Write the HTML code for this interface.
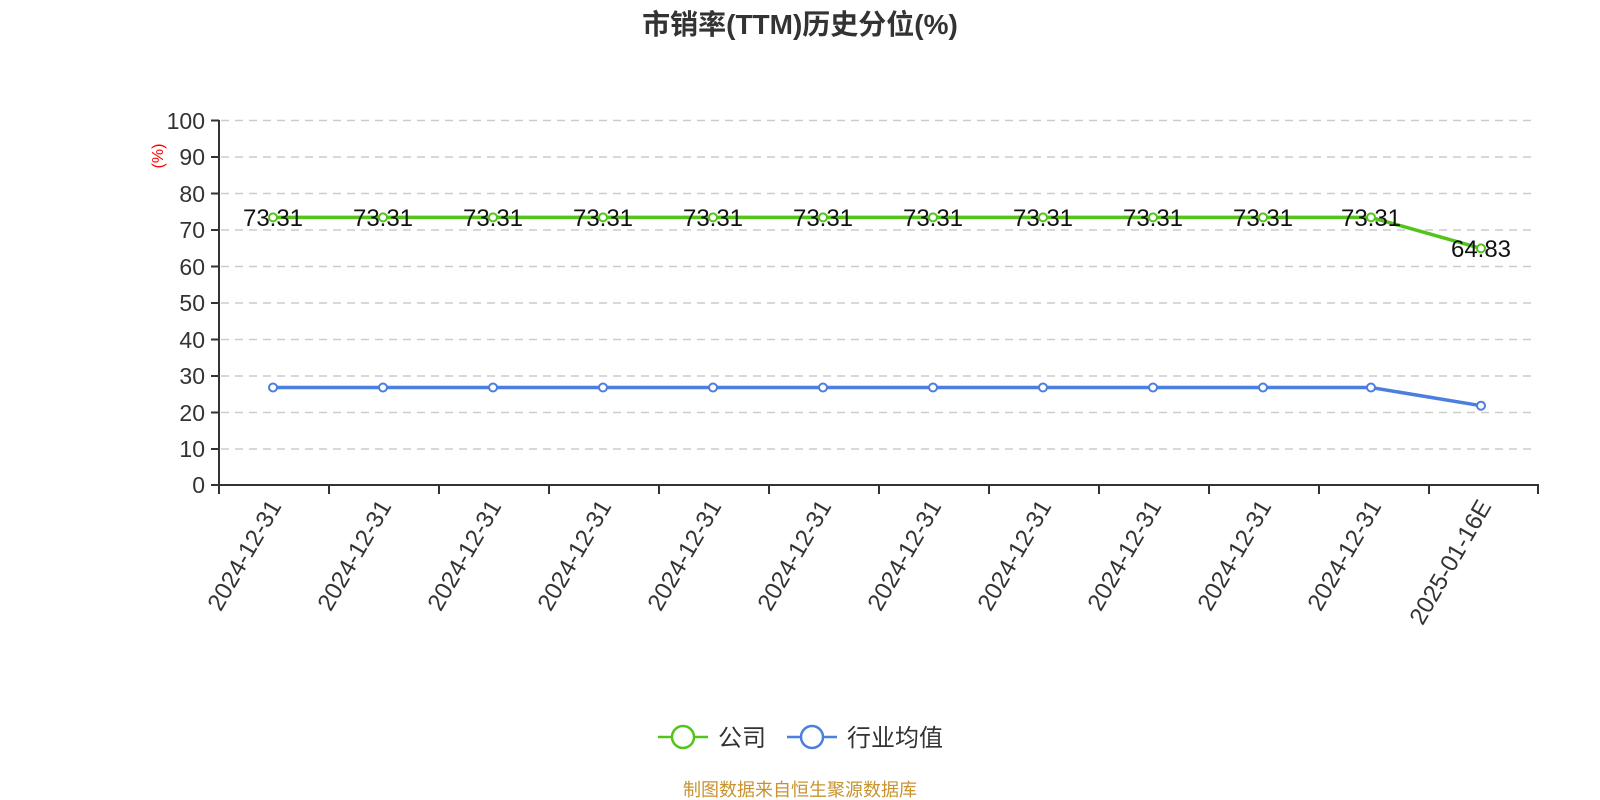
<!DOCTYPE html>
<html><head><meta charset="utf-8"><style>
html,body{margin:0;padding:0;background:#fff;}
svg{display:block;font-family:"Liberation Sans","Noto Sans CJK SC",sans-serif;}
</style></head><body>
<svg width="1600" height="800" viewBox="0 0 1600 800" xmlns="http://www.w3.org/2000/svg">
<text x="800" y="34" text-anchor="middle" font-size="28" font-weight="bold" fill="#333">市销率(TTM)历史分位(%)</text>
<g stroke="#ccc" stroke-width="1.5" stroke-dasharray="8,6">
<line x1="221" x2="1537" y1="120.5" y2="120.5"/><line x1="221" x2="1537" y1="157" y2="157"/>
<line x1="221" x2="1537" y1="193.5" y2="193.5"/><line x1="221" x2="1537" y1="230" y2="230"/>
<line x1="221" x2="1537" y1="266.5" y2="266.5"/><line x1="221" x2="1537" y1="303" y2="303"/>
<line x1="221" x2="1537" y1="339.5" y2="339.5"/><line x1="221" x2="1537" y1="376" y2="376"/>
<line x1="221" x2="1537" y1="412.5" y2="412.5"/><line x1="221" x2="1537" y1="449" y2="449"/>
</g>
<g stroke="#333" stroke-width="2">
<line x1="219" x2="219" y1="120" y2="486"/>
<line x1="218" x2="1539" y1="485" y2="485"/>
<line x1="211" x2="219" y1="120.5" y2="120.5"/><line x1="211" x2="219" y1="157" y2="157"/><line x1="211" x2="219" y1="193.5" y2="193.5"/><line x1="211" x2="219" y1="230" y2="230"/><line x1="211" x2="219" y1="266.5" y2="266.5"/><line x1="211" x2="219" y1="303" y2="303"/><line x1="211" x2="219" y1="339.5" y2="339.5"/><line x1="211" x2="219" y1="376" y2="376"/><line x1="211" x2="219" y1="412.5" y2="412.5"/><line x1="211" x2="219" y1="449" y2="449"/><line x1="211" x2="219" y1="485" y2="485"/>
<line x1="219" x2="219" y1="485" y2="494"/><line x1="329" x2="329" y1="485" y2="494"/><line x1="439" x2="439" y1="485" y2="494"/><line x1="549" x2="549" y1="485" y2="494"/><line x1="659" x2="659" y1="485" y2="494"/><line x1="769" x2="769" y1="485" y2="494"/><line x1="879" x2="879" y1="485" y2="494"/><line x1="989" x2="989" y1="485" y2="494"/><line x1="1099" x2="1099" y1="485" y2="494"/><line x1="1209" x2="1209" y1="485" y2="494"/><line x1="1319" x2="1319" y1="485" y2="494"/><line x1="1429" x2="1429" y1="485" y2="494"/><line x1="1538" x2="1538" y1="485" y2="494"/>
</g>
<g font-size="23" fill="#333" text-anchor="end">
<text x="205" y="129">100</text><text x="205" y="165">90</text><text x="205" y="202">80</text><text x="205" y="238">70</text><text x="205" y="275">60</text><text x="205" y="311">50</text><text x="205" y="348">40</text><text x="205" y="384">30</text><text x="205" y="421">20</text><text x="205" y="457">10</text><text x="205" y="493">0</text>
</g>
<text transform="translate(163,156) rotate(-90)" text-anchor="middle" font-size="16" fill="#f00">(%)</text>
<g font-size="24" fill="#333" text-anchor="end">
<text transform="translate(282,506) rotate(-60)">2024-12-31</text>
<text transform="translate(392,506) rotate(-60)">2024-12-31</text>
<text transform="translate(502,506) rotate(-60)">2024-12-31</text>
<text transform="translate(612,506) rotate(-60)">2024-12-31</text>
<text transform="translate(722,506) rotate(-60)">2024-12-31</text>
<text transform="translate(832,506) rotate(-60)">2024-12-31</text>
<text transform="translate(942,506) rotate(-60)">2024-12-31</text>
<text transform="translate(1052,506) rotate(-60)">2024-12-31</text>
<text transform="translate(1162,506) rotate(-60)">2024-12-31</text>
<text transform="translate(1272,506) rotate(-60)">2024-12-31</text>
<text transform="translate(1382,506) rotate(-60)">2024-12-31</text>
<text transform="translate(1492,506) rotate(-60)">2025-01-16E</text>
</g>
<polyline fill="none" stroke="#52c41a" stroke-width="3.5" points="273,217.4 383,217.4 493,217.4 603,217.4 713,217.4 823,217.4 933,217.4 1043,217.4 1153,217.4 1263,217.4 1371,217.4 1481,248.4"/>
<polyline fill="none" stroke="#4a7fe0" stroke-width="3.5" points="273,387.5 383,387.5 493,387.5 603,387.5 713,387.5 823,387.5 933,387.5 1043,387.5 1153,387.5 1263,387.5 1371,387.5 1481,405.7"/>
<g fill="#fff" stroke="#52c41a" stroke-width="2">
<circle cx="273" cy="217.4" r="4"/><circle cx="383" cy="217.4" r="4"/><circle cx="493" cy="217.4" r="4"/><circle cx="603" cy="217.4" r="4"/><circle cx="713" cy="217.4" r="4"/><circle cx="823" cy="217.4" r="4"/><circle cx="933" cy="217.4" r="4"/><circle cx="1043" cy="217.4" r="4"/><circle cx="1153" cy="217.4" r="4"/><circle cx="1263" cy="217.4" r="4"/><circle cx="1371" cy="217.4" r="4"/><circle cx="1481" cy="248.4" r="4"/>
</g>
<g fill="#fff" stroke="#4a7fe0" stroke-width="2">
<circle cx="273" cy="387.5" r="4"/><circle cx="383" cy="387.5" r="4"/><circle cx="493" cy="387.5" r="4"/><circle cx="603" cy="387.5" r="4"/><circle cx="713" cy="387.5" r="4"/><circle cx="823" cy="387.5" r="4"/><circle cx="933" cy="387.5" r="4"/><circle cx="1043" cy="387.5" r="4"/><circle cx="1153" cy="387.5" r="4"/><circle cx="1263" cy="387.5" r="4"/><circle cx="1371" cy="387.5" r="4"/><circle cx="1481" cy="405.7" r="4"/>
</g>
<g font-size="24" fill="#111" text-anchor="middle">
<text x="273" y="226">73.31</text><text x="383" y="226">73.31</text><text x="493" y="226">73.31</text><text x="603" y="226">73.31</text><text x="713" y="226">73.31</text><text x="823" y="226">73.31</text><text x="933" y="226">73.31</text><text x="1043" y="226">73.31</text><text x="1153" y="226">73.31</text><text x="1263" y="226">73.31</text><text x="1371" y="226">73.31</text><text x="1481" y="257">64.83</text>
</g>
<line x1="658" x2="708" y1="737" y2="737" stroke="#52c41a" stroke-width="2.5"/>
<circle cx="683" cy="737" r="11" fill="#fff" stroke="#52c41a" stroke-width="2.5"/>
<text x="718" y="746" font-size="24" fill="#333">公司</text>
<line x1="787" x2="837" y1="737" y2="737" stroke="#4a7fe0" stroke-width="2.5"/>
<circle cx="812" cy="737" r="11" fill="#fff" stroke="#4a7fe0" stroke-width="2.5"/>
<text x="847" y="746" font-size="24" fill="#333">行业均值</text>
<text x="800" y="796" text-anchor="middle" font-size="18" fill="#c8932e">制图数据来自恒生聚源数据库</text>
</svg>
</body></html>
